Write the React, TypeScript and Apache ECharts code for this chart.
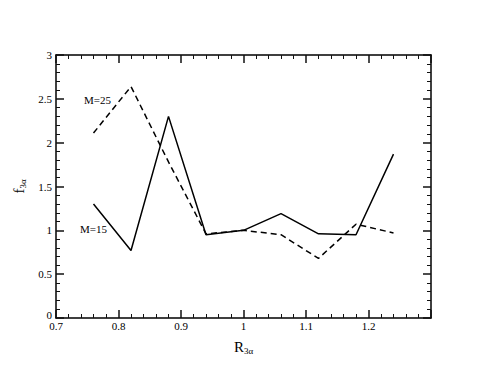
import React, { useEffect, useRef } from "react";
import * as echarts from "echarts";

const xValues = [0.76, 0.82, 0.88, 0.94, 1.0, 1.06, 1.12, 1.18, 1.24];
const m15 = [1.3, 0.77, 2.3, 0.95, 1.0, 1.19, 0.96, 0.95, 1.87];
const m25 = [2.11, 2.64, 1.78, 0.96, 1.0, 0.95, 0.68, 1.07, 0.97];
const seriesNames = ["M=15", "M=25"];

const FONT = "'Liberation Serif', 'Times New Roman', serif";

export default function App() {
  const ref = useRef<HTMLDivElement>(null);
  useEffect(() => {
    const chart = echarts.init(ref.current!, null, { renderer: "svg" });
    const mk = (pos: string) => ({
      axisLine: { show: true, onZero: false, lineStyle: { color: "#000", width: 1.5 } },
      axisTick: { show: true, inside: true, length: 8, lineStyle: { color: "#111", width: 1.5 } },
      minorTick: { show: true, splitNumber: 5, length: 4, lineStyle: { color: "#111", width: 1 } },
      splitLine: { show: false },
      position: pos,
    });
    const subRich = {
      a: { fontFamily: FONT, fontSize: 15, color: "#000" },
      b: { fontFamily: FONT, fontSize: 9, color: "#000", verticalAlign: "bottom", padding: [8, 0, 0, 0] },
    };
    chart.setOption({
      animation: false,
      grid: { left: 56, right: 54, top: 55, bottom: 56 },
      xAxis: [
        {
          type: "value", min: 0.7, max: 1.3, interval: 0.1, ...mk("bottom"),
          name: "{a|R}{b|3α}",
          nameLocation: "middle",
          nameGap: 20,
          nameTextStyle: { rich: subRich },
          axisLabel: {
            fontFamily: FONT,
            fontSize: 11,
            color: "#000",
            margin: 2,
            formatter: (v: number) => (Math.abs(v - 1.3) < 1e-6 ? "" : String(Math.round(v * 10) / 10)),
          },
        },
        { type: "value", min: 0.7, max: 1.3, interval: 0.1, ...mk("top"), axisLabel: { show: false } },
      ],
      yAxis: [
        {
          type: "value", min: 0, max: 3, interval: 0.5, ...mk("left"),
          name: "{a|f}{b|3α}",
          nameLocation: "middle",
          nameGap: 22,
          nameRotate: 90,
          nameTextStyle: { rich: subRich },
          axisLabel: {
            fontFamily: FONT,
            fontSize: 11,
            color: "#000",
            margin: 4,
            formatter: (v: number) => (v === 0 ? "{z|0}" : String(v)),
            rich: { z: { fontFamily: FONT, fontSize: 11, color: "#000", padding: [0, 0, 6, 0] } },
          },
        },
        { type: "value", min: 0, max: 3, interval: 0.5, ...mk("right"), axisLabel: { show: false } },
      ],
      series: [
        {
          name: seriesNames[0],
          type: "line",
          data: xValues.map((x, i) => [x, m15[i]]),
          showSymbol: false,
          lineStyle: { color: "#000", width: 1.5, type: "solid" },
        },
        {
          name: seriesNames[1],
          type: "line",
          data: xValues.map((x, i) => [x, m25[i]]),
          showSymbol: false,
          lineStyle: { color: "#000", width: 1.5, type: [6, 4] },
        },
      ],
      graphic: [
        { type: "text", left: 80, top: 223, style: { text: seriesNames[0], font: `11px ${FONT}`, fill: "#000" } },
        { type: "text", left: 84, top: 94, style: { text: seriesNames[1], font: `11px ${FONT}`, fill: "#000" } },
      ],
    });
    return () => chart.dispose();
  }, []);
  return <div ref={ref} style={{ width: 485, height: 374, marginLeft: -8, marginTop: -8 }} />;
}
